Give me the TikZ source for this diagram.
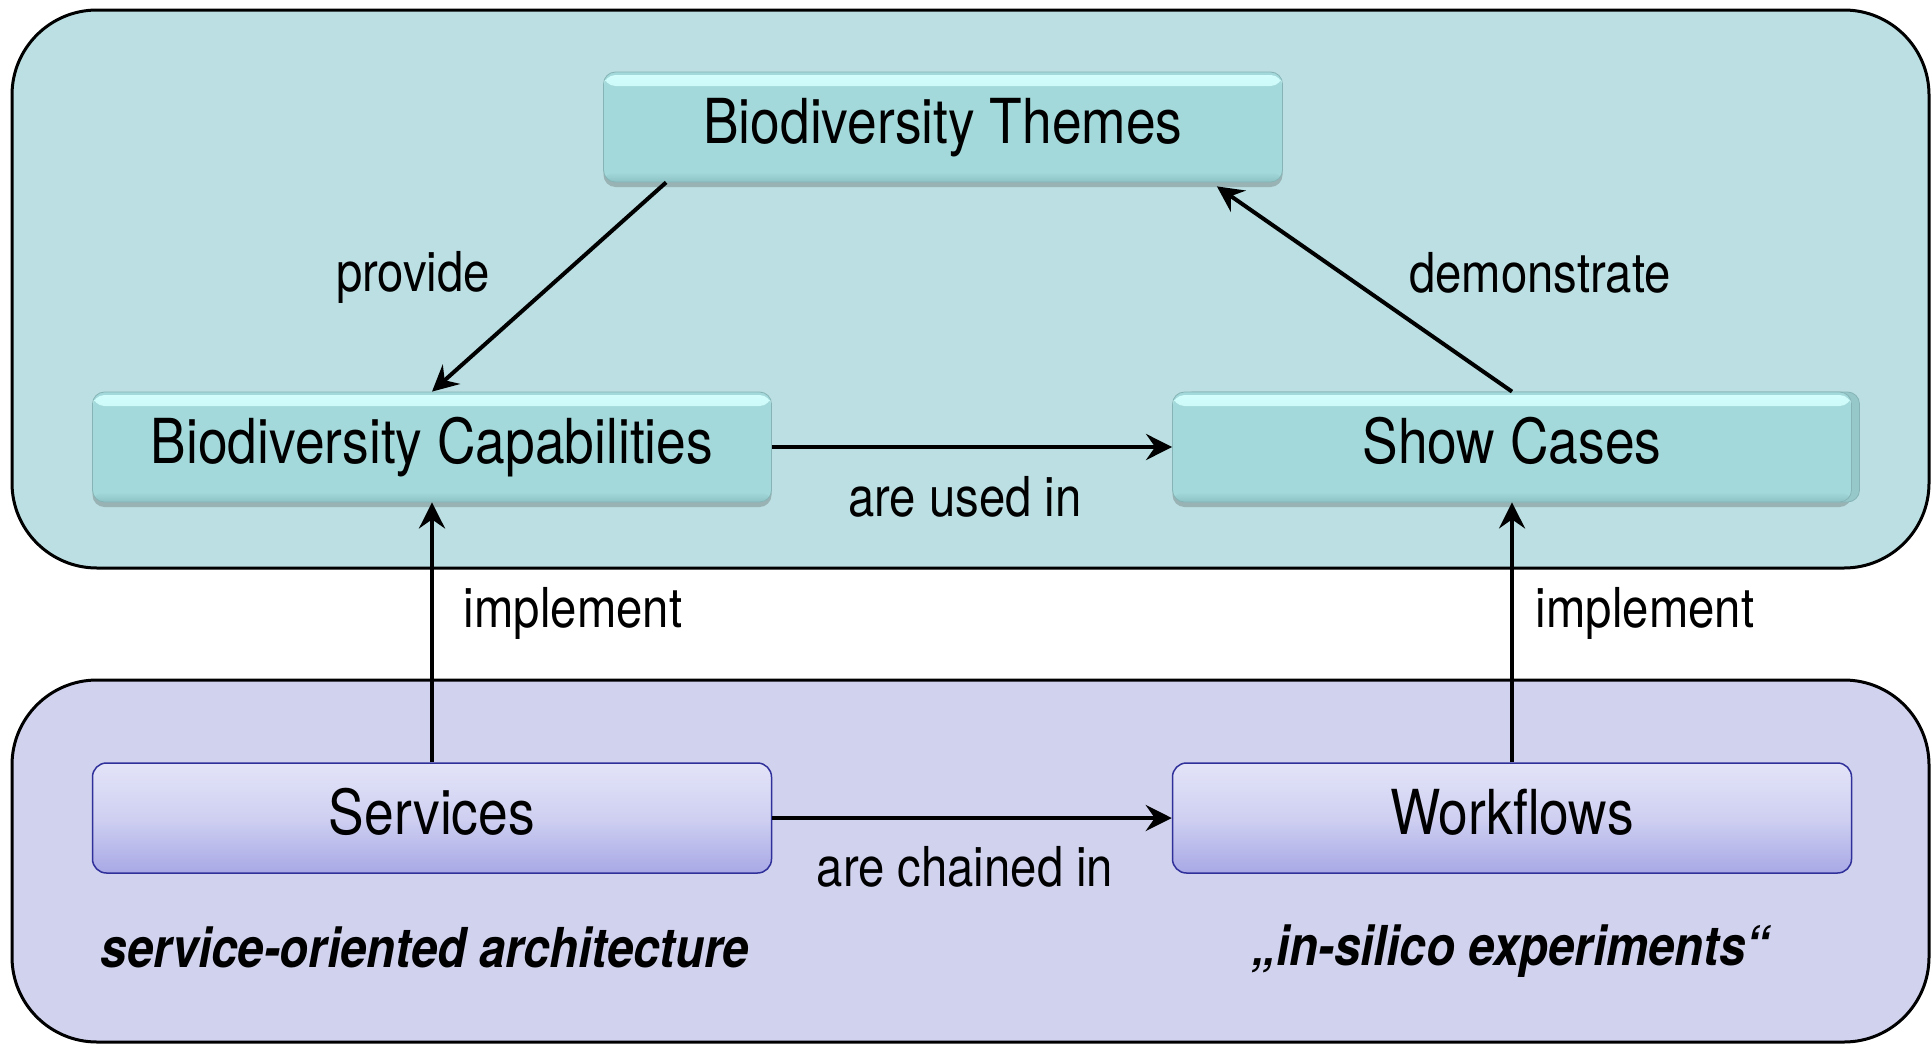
\documentclass[tikz,border=0pt]{standalone}
\usepackage{fontspec}
\setmainfont{TeX Gyre Heros}[FakeStretch=0.86]
\usetikzlibrary{arrows.meta,shadows}
\definecolor{toppanel}{HTML}{BBDFE2}
\definecolor{tealbox}{HTML}{A3D9DA}
\definecolor{tealhi}{HTML}{D4FEFE}
\definecolor{tealdark}{HTML}{8CC2C4}
\definecolor{tealedge}{HTML}{86B4B6}
\definecolor{botpanel}{HTML}{D0D2EE}
\definecolor{lavtop}{HTML}{E3E4F8}
\definecolor{lavmid}{HTML}{CFD0F1}
\definecolor{lavbot}{HTML}{A8A8E6}
\definecolor{lavedge}{HTML}{30309A}
\begin{document}
\begin{tikzpicture}[x=1pt,y=-1pt,
  panel/.style={draw=black, line width=3pt, rounded corners=85pt},
  tealnode/.style={rectangle, rounded corners=12pt, fill=tealbox, draw=tealedge, line width=0.8pt,
    minimum width=679pt, minimum height=110pt, font=\fontsize{62}{70}\selectfont,
    text height=46pt, text depth=13pt,
    drop shadow={shadow xshift=0pt, shadow yshift=-5pt, opacity=0.3, fill=black!70},
    path picture={
      \shade[top color=tealhi, bottom color=tealbox] ([yshift=-3pt]path picture bounding box.north west) rectangle ([yshift=-14pt]path picture bounding box.north east);
      \shade[top color=tealbox, bottom color=tealdark] ([yshift=10pt]path picture bounding box.south west) rectangle (path picture bounding box.south east);
    }},
  lavnode/.style={rectangle, rounded corners=14pt, top color=lavtop, bottom color=lavbot, middle color=lavmid,
    draw=lavedge, line width=1.5pt, text height=46pt, text depth=13pt,
    minimum width=679pt, minimum height=110pt, font=\fontsize{62}{70}\selectfont},
  lbl/.style={font=\fontsize{55}{60}\selectfont, inner sep=0pt},
  note/.style={font=\fontsize{55}{60}\selectfont\bfseries\itshape, inner sep=0pt},
  arr/.style={line width=4pt, -{Stealth[length=26pt,width=26pt,inset=9pt]}}
]
\useasboundingbox (0,0) rectangle (1932,1044);
% panels
\draw[panel, fill=toppanel] (12,10) rectangle (1929,568);
\draw[panel, fill=botpanel] (12,680) rectangle (1929,1042);

% nodes
\node[tealnode] (themes) at (943,127) {Biodiversity Themes};
\node[tealnode] (cap) at (432,447) {Biodiversity Capabilities};
\node[tealnode, copy shadow={shadow xshift=8pt, shadow yshift=0pt, opacity=1, fill=tealbox!92!black, draw=tealedge}] (show) at (1512,447) {Show Cases};
\node[lavnode] (serv) at (432,818) {Services};
\node[lavnode] (work) at (1512,818) {Workflows};

% connectors
\draw[arr] ([xshift=63pt]themes.south west) -- (cap.north);
\draw[arr] (show.north) -- ([xshift=-66pt,yshift=-4pt]themes.south east);
\draw[arr] (cap.east) -- (show.west);
\draw[arr] (serv.north) -- (cap.south);
\draw[arr] (work.north) -- (show.south);
\draw[arr] (serv.east) -- (work.west);

% labels
\node[lbl] (lprov) at (413,277) {provide};
\node[lbl] (ldemo) at (1540,273) {demonstrate};
\node[lbl] (lused) at (965,497) {are used in};
\node[lbl] (limpl1) at (573,613) {implement};
\node[lbl] (limpl2) at (1645,613) {implement};
\node[lbl] (lchain) at (965,867) {are chained in};
\node[note] (soa) at (425,947) {service-oriented architecture};
\node[note] (silico) at (1511,951) {„in-silico experiments“};
\end{tikzpicture}
\end{document}
